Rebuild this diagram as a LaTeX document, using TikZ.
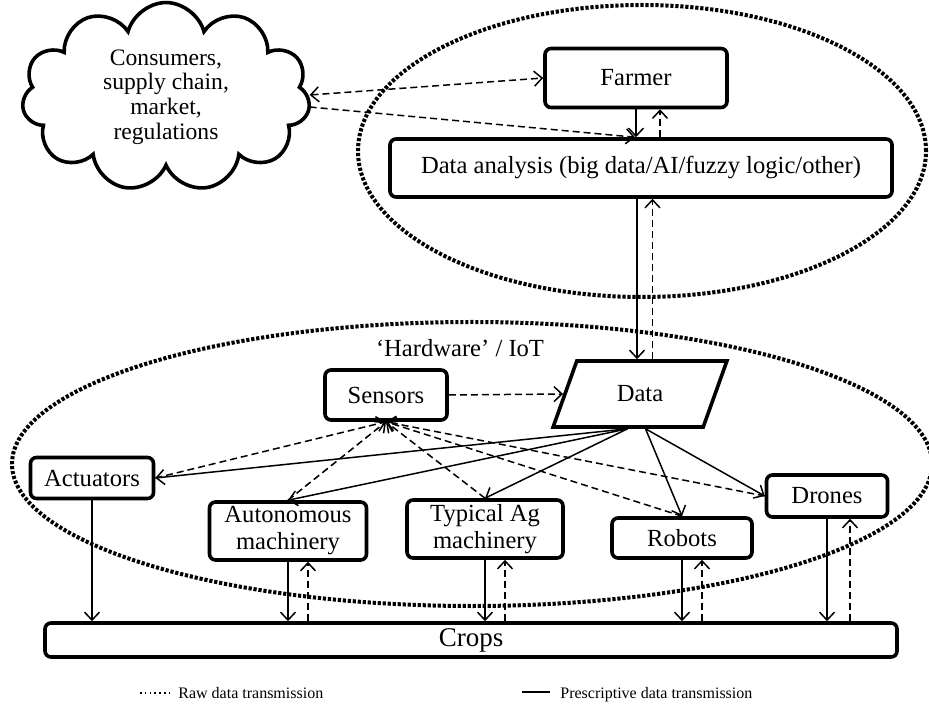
\documentclass[tikz,border=0pt]{standalone}
\usepackage{fontspec}
\setmainfont{Liberation Serif}
\usetikzlibrary{shapes.geometric, shapes.symbols, arrows.meta}

\tikzset{
  box/.style = {draw, fill=white, line width=1.8pt, rounded corners=3pt, inner sep=0pt, align=center},
  zone/.style = {ellipse, draw, line width=2pt, dash pattern=on 1.6pt off 0.9pt, inner sep=0pt},
  raw/.style = {line width=0.75pt, dash pattern=on 3.5pt off 2pt},
  presc/.style = {line width=0.75pt},
  keytext/.style = {anchor=base west, inner sep=0pt, font=\fontsize{8}{9}\selectfont},
}

\begin{document}
\begin{tikzpicture}[x=0.5pt, y=-0.5pt, font=\fontsize{12.3}{13.5}\selectfont,
    >={Straight Barb[length=4pt,width=7.5pt]}]
		\useasboundingbox (0,0) rectangle (929,704);
		%%%%%%%%%%%%%
		\node (planzone) [zone, minimum width=284pt, minimum height=146pt] at (642,151) {};
		\node (iotzone) [zone, minimum width=460pt, minimum height=142pt] at (472,464) {};
		\node (iotlabel) at (460,348) {`Hardware' / IoT};
		%%%%%%%%%%%%%
		\node (market) [cloud, draw, line width=1.8pt, cloud puffs=11, cloud ignores aspect, minimum width=144pt, minimum height=86pt,
		  align=center, font=\fontsize{11.8}{12.3}\selectfont] at (166,97) {Consumers,\\ supply chain,\\ market,\\ regulations};
		\node (farmer) [box, minimum width=91pt, minimum height=29.5pt] at (636,78) {Farmer};
		\node (analysis) [box, minimum width=251pt, minimum height=29pt] at (641,168) {Data analysis (big data/AI/fuzzy logic/other)};
		\node (data) [trapezium, trapezium left angle=62, trapezium right angle=118, trapezium stretches=true,
		  draw, fill=white, line width=1.8pt, minimum width=87pt, minimum height=33pt, inner sep=0pt] at (640,394) {Data};
		\node (sensors) [box, minimum width=61pt, minimum height=25pt] at (386,395) {Sensors};
		\node (actuators) [box, minimum width=61.5pt, minimum height=20.5pt] at (92,478) {Actuators};
		\node (auto) [box, minimum width=78.5pt, minimum height=29pt] at (288,531) {Autonomous\\ machinery};
		\node (typical) [box, minimum width=78pt, minimum height=29pt] at (485,529) {Typical Ag\\ machinery};
		\node (robots) [box, minimum width=70pt, minimum height=20pt] at (682,538) {Robots};
		\node (drones) [box, minimum width=60.5pt, minimum height=21pt] at (827,496) {Drones};
		\node (crops) [box, minimum width=426pt, minimum height=17pt, font=\fontsize{13.5}{14}\selectfont] at (471,640) {Crops};
		%%%%%%%%%%%%%
		\draw [raw, <->] ([yshift=1pt]market.east) to (farmer.west);
		\draw [raw, ->] ([yshift=-5pt]market.east) to ([xshift=-3pt]analysis.north);
		\draw [presc, ->] (farmer.south) to (farmer.south |- analysis.north);
		\draw [raw, ->] ([xshift=12pt]farmer.south |- analysis.north) to ([xshift=12pt]farmer.south);
		\draw [presc, ->] ([xshift=-2pt]analysis.south) to ([xshift=-2pt]analysis.south |- data.top side);
		\draw [raw, ->] (data.top side) to (data.top side |- analysis.south);
		%%%%%%%%%%%%%
		\draw [raw, ->] (sensors.east) to (data.left side);
		\draw [raw, ->] (actuators.east) to (sensors.south);
		\draw [raw, ->] (auto.north) to (sensors.south);
		\draw [raw, ->] (typical.north) to (sensors.south);
		\draw [raw, ->] (robots.north) to (sensors.south);
		\draw [raw, ->] (drones.west) to (sensors.south);
		\draw [presc, ->] (data.bottom side) to (actuators.east);
		\draw [presc, ->] (data.bottom side) to (auto.north);
		\draw [presc, ->] (data.bottom side) to (typical.north);
		\draw [presc, ->] ([xshift=9pt]data.bottom side) to (robots.north);
		\draw [presc, ->] ([xshift=9pt]data.bottom side) to (drones.west);
		%%%%%%%%%%%%%
		\draw [presc, ->] (actuators.south) to (actuators.south |- crops.north);
		\draw [presc, ->] (auto.south) to (auto.south |- crops.north);
		\draw [raw, ->] ([xshift=10pt]auto.south |- crops.north) to ([xshift=10pt]auto.south);
		\draw [presc, ->] (typical.south) to (typical.south |- crops.north);
		\draw [raw, ->] ([xshift=10pt]typical.south |- crops.north) to ([xshift=10pt]typical.south);
		\draw [presc, ->] (robots.south) to (robots.south |- crops.north);
		\draw [raw, ->] ([xshift=10pt]robots.south |- crops.north) to ([xshift=10pt]robots.south);
		\draw [presc, ->] (drones.south) to (drones.south |- crops.north);
		\draw [raw, ->] ([xshift=11.5pt]drones.south |- crops.north) to ([xshift=11.5pt]drones.south);
		%%%%%%%%%%%%%
		\node (rawkey) [keytext] at (178,698) {Raw data transmission};
		\node (presckey) [keytext] at (560,698) {Prescriptive data transmission};
		\draw [line width=0.6pt, dash pattern=on 0.8pt off 1.6pt] ([xshift=-19pt, yshift=2.5pt]rawkey.base west) to ([xshift=-4pt, yshift=2.5pt]rawkey.base west);
		\draw [line width=1pt] ([xshift=-19pt, yshift=3pt]presckey.base west) to ([xshift=-5pt, yshift=3pt]presckey.base west);
\end{tikzpicture}
\end{document}
